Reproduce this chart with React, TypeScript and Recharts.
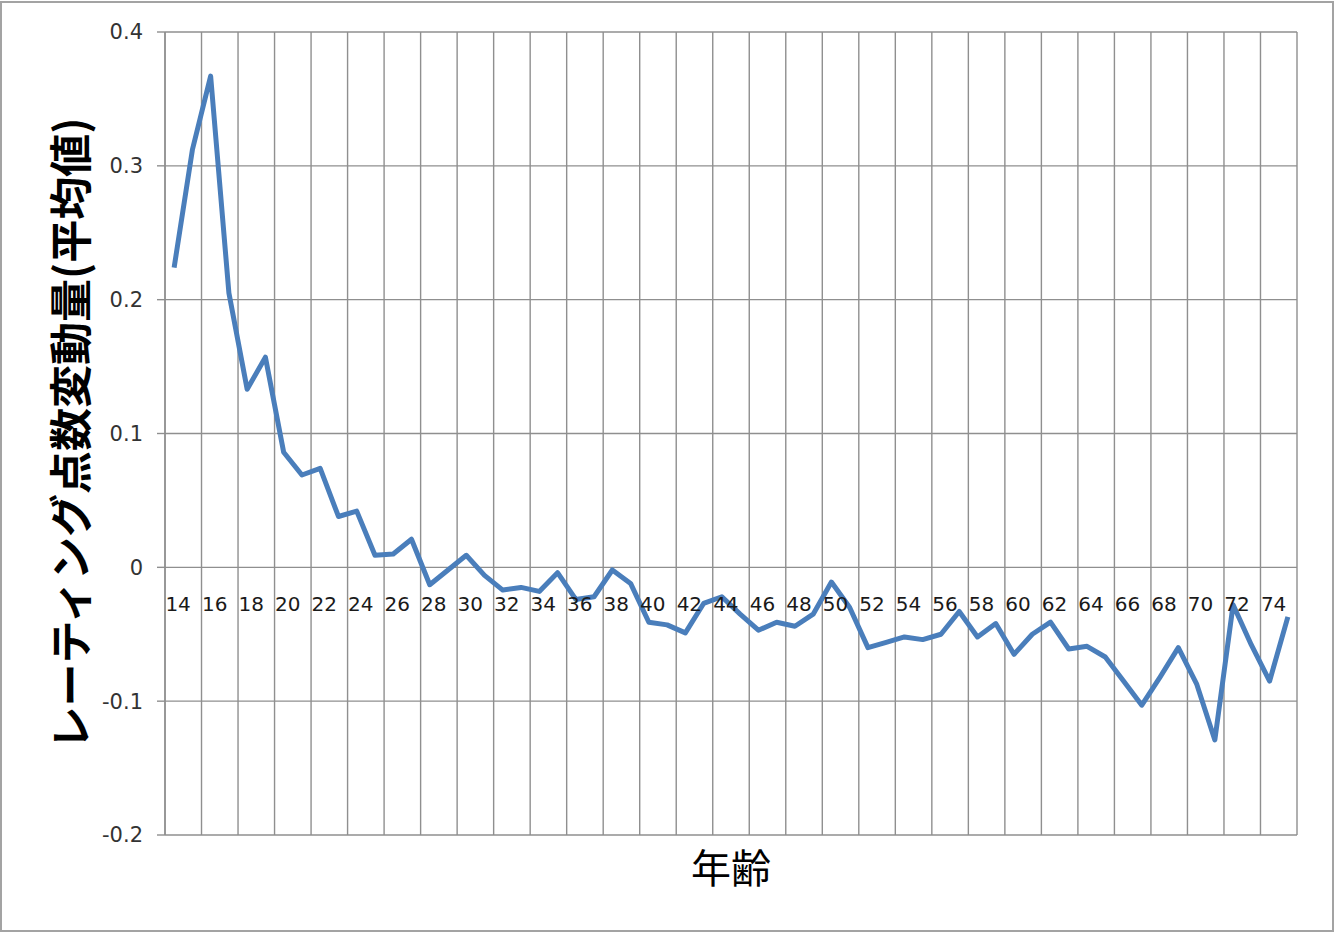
import React from "react";
import { LineChart, Line, XAxis, YAxis, CartesianGrid, Label } from "recharts";

// 年齢 (categories)
const ages = [
    14, 15, 16, 17, 18, 19, 20, 21, 22, 23, 24, 25, 26, 27, 28, 29, 30, 31, 32, 33, 34,
    35, 36, 37, 38, 39, 40, 41, 42, 43, 44, 45, 46, 47, 48, 49, 50, 51, 52, 53, 54, 55,
    56, 57, 58, 59, 60, 61, 62, 63, 64, 65, 66, 67, 68, 69, 70, 71, 72, 73, 74, 75,
];

// レーティング点数変動量(平均値)
const ratingChange = [
    0.224, 0.312, 0.367, 0.205, 0.133, 0.157, 0.086, 0.069, 0.074, 0.038, 0.042,
    0.009, 0.010, 0.021, -0.013, -0.002, 0.009, -0.006, -0.017, -0.015, -0.018,
    -0.004, -0.024, -0.022, -0.002, -0.012, -0.041, -0.043, -0.049, -0.027, -0.022,
    -0.035, -0.047, -0.041, -0.044, -0.035, -0.011, -0.030, -0.060, -0.056, -0.052,
    -0.054, -0.050, -0.033, -0.052, -0.042, -0.065, -0.050, -0.041, -0.061, -0.059,
    -0.067, -0.085, -0.103, -0.082, -0.060, -0.087, -0.129, -0.028, -0.058, -0.085,
    -0.037,
];

const yTicks = [-0.2, -0.1, 0, 0.1, 0.2, 0.3, 0.4];
const yDomain: [number, number] = [-0.2, 0.4];

const data = ages.map((age, i) => ({ age, value: ratingChange[i] }));

const CHART_W = 1340;
const CHART_H = 933;
const MARGIN = { top: 32, right: 43, left: 0, bottom: 38 };
const X_AXIS_H = 60;
const Y_AXIS_W = 165;
const PLOT_W = CHART_W - MARGIN.left - MARGIN.right - Y_AXIS_W;
const PLOT_H = CHART_H - MARGIN.top - MARGIN.bottom - X_AXIS_H;
const ZERO_Y = MARGIN.top + (PLOT_H * (yDomain[1] - 0)) / (yDomain[1] - yDomain[0]);
// half a category on each side so points sit in the middle of their slot
const HALF_CAT = PLOT_W / ages.length / 2;

const GRID = "#8f8f8f";
const LINE = "#4a7ebb";

// category labels sit on the zero line, like Excel's "axis crosses at 0"
const AgeTick = (props: any) => {
    const { x, payload } = props;
    return (
        <text
            x={x + 4}
            y={ZERO_Y + 44}
            textAnchor="middle"
            fontSize={20}
            fontFamily="'DejaVu Sans', Verdana, sans-serif"
            fill="#1a1a1a"
        >
            {payload.value}
        </text>
    );
};

const App = () => {
    return (
        <div style={{ position: "absolute", left: 0, top: 0, width: CHART_W, height: CHART_H, background: "#fff" }}>
            <div
                style={{
                    position: "absolute",
                    left: 0,
                    top: 1,
                    width: 1334,
                    height: 931,
                    boxSizing: "border-box",
                    border: "2px solid #a3a3a3",
                }}
            />
            <div style={{ position: "absolute", left: 0, top: 0 }}>
                <LineChart width={CHART_W} height={CHART_H} data={data} margin={MARGIN}>
                    <CartesianGrid
                        stroke={GRID}
                        strokeWidth={1.4}
                        verticalCoordinatesGenerator={({ offset }: any) => {
                            // gridlines every 2 categories, on category boundaries
                            const step = offset.width / (ages.length / 2);
                            return Array.from({ length: ages.length / 2 + 1 }, (_, k) => offset.left + k * step);
                        }}
                    />
                    <XAxis
                        dataKey="age"
                        interval={1}
                        height={X_AXIS_H}
                        padding={{ left: HALF_CAT, right: HALF_CAT }}
                        axisLine={false}
                        tickLine={false}
                        tick={<AgeTick />}
                    >
                        <Label
                            content={({ viewBox }: any) => (
                                <text
                                    x={viewBox.x + viewBox.width / 2}
                                    y={viewBox.y + 48}
                                    textAnchor="middle"
                                    fontSize={40}
                                    fontFamily="'Noto Sans CJK JP', sans-serif"
                                    fill="#000"
                                >
                                    年齢
                                </text>
                            )}
                        />
                    </XAxis>
                    <YAxis
                        width={Y_AXIS_W}
                        domain={yDomain}
                        ticks={yTicks}
                        tickFormatter={(v: number) => String(v)}
                        tickSize={8}
                        tickMargin={14}
                        axisLine={{ stroke: GRID, strokeWidth: 1.4 }}
                        tickLine={{ stroke: GRID, strokeWidth: 1.4 }}
                        tick={{ fontSize: 21, fill: "#333", fontFamily: "'DejaVu Sans', Verdana, sans-serif" }}
                    >
                        <Label
                            content={({ viewBox }: any) => {
                                const cx = viewBox.x + 68;
                                const cy = viewBox.y + viewBox.height / 2;
                                return (
                                    <text
                                        x={cx}
                                        y={cy}
                                        transform={`rotate(-90, ${cx}, ${cy})`}
                                        textAnchor="middle"
                                        dominantBaseline="central"
                                        fontSize={43}
                                        fontWeight="bold"
                                        fontFamily="'Noto Sans CJK JP', sans-serif"
                                        fill="#000"
                                    >
                                        レーティング点数変動量(平均値)
                                    </text>
                                );
                            }}
                        />
                    </YAxis>
                    <Line
                        type="linear"
                        dataKey="value"
                        stroke={LINE}
                        strokeWidth={5}
                        strokeLinejoin="round"
                        dot={false}
                        activeDot={false}
                        isAnimationActive={false}
                    />
                </LineChart>
            </div>
        </div>
    );
};

export default App;
